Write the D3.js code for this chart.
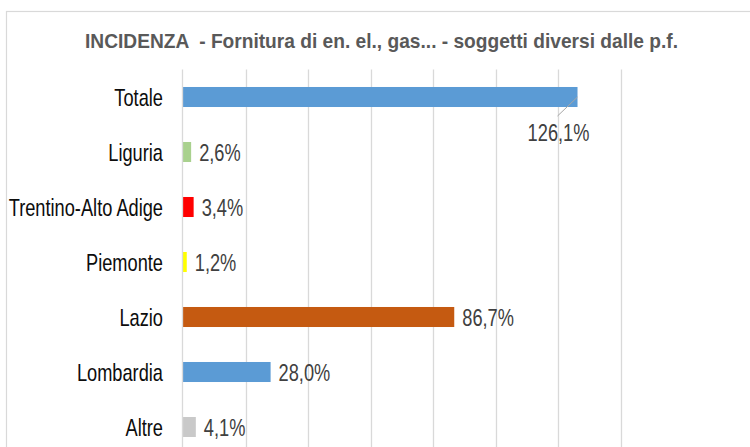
<!DOCTYPE html>
<html>
<head>
<meta charset="utf-8">
<script src="https://cdn.jsdelivr.net/npm/d3@7"></script>
<style>
  body { margin: 0; background: #fff; }
  svg { display: block; }
</style>
</head>
<body>
<script>
// data
var categories = ['Totale', 'Liguria', 'Trentino-Alto Adige', 'Piemonte', 'Lazio', 'Lombardia', 'Altre'];
var values = [126.1, 2.6, 3.4, 1.2, 86.7, 28.0, 4.1];
var colors = ['#5B9BD5', '#A9D18E', '#FF0000', '#FFFF00', '#C55A11', '#5B9BD5', '#C9C9C9'];
var labels = ['126,1%', '2,6%', '3,4%', '1,2%', '86,7%', '28,0%', '4,1%'];
var title = 'INCIDENZA  - Fornitura di en. el., gas... - soggetti diversi dalle p.f.';

var width = 750, height = 447;
var plot_left = 183, plot_right = 621, plot_top = 69.5, plot_bottom = 454.5;
var text_sx = 0.76; // text in the picture is horizontally squeezed

var data = categories.map((c, i) => ({cat: c, value: values[i], color: colors[i], label: labels[i]}));

var x = d3.scaleLinear().domain([0, 140]).range([plot_left, plot_right]);
var y = d3.scaleBand().domain(categories).range([plot_top, plot_bottom]).paddingInner(0.636).paddingOuter(0.318);

var svg = d3.select('body').append('svg').attr('width', width).attr('height', height);

// chart border
svg.append('rect')
    .attr('x', 6.5).attr('y', 11.5)
    .attr('width', 800).attr('height', 500)
    .attr('fill', 'none').attr('stroke', '#D9D9D9').attr('stroke-width', 1.2);

// title
svg.append('text')
    .attr('x', 381.5).attr('y', 48)
    .attr('text-anchor', 'middle')
    .attr('font-family', 'Liberation Sans, Arial, sans-serif')
    .attr('font-weight', 'bold')
    .attr('font-size', 21)
    .attr('fill', '#595959')
    .attr('textLength', 593).attr('lengthAdjust', 'spacingAndGlyphs')
    .style('white-space', 'pre')
    .text(title);

// gridlines
svg.append('g').selectAll('line').data(x.ticks(7).filter(d => d > 0)).enter()
    .append('line')
    .attr('x1', d => Math.round(x(d)) + 0.5).attr('x2', d => Math.round(x(d)) + 0.5)
    .attr('y1', plot_top).attr('y2', plot_bottom)
    .attr('stroke', '#D9D9D9').attr('stroke-width', 1.3);

// bars
svg.append('g').selectAll('rect').data(data).enter()
    .append('rect')
    .attr('x', x(0))
    .attr('y', d => y(d.cat))
    .attr('width', d => x(d.value) - x(0))
    .attr('height', y.bandwidth())
    .attr('fill', d => d.color);

// category axis line
svg.append('line')
    .attr('x1', x(0) - 0.5).attr('x2', x(0) - 0.5)
    .attr('y1', plot_top).attr('y2', plot_bottom)
    .attr('stroke', '#D9D9D9').attr('stroke-width', 1.3);

// category labels
svg.append('g').selectAll('g').data(data).enter()
    .append('g')
    .attr('transform', d => 'translate(' + 163 + ',' + (y(d.cat) + y.bandwidth() / 2 + 8.5) + ') scale(' + text_sx + ',1)')
    .append('text')
    .attr('text-anchor', 'end')
    .attr('font-family', 'Liberation Sans, Arial, sans-serif')
    .attr('font-size', 24)
    .attr('fill', '#0D0D0D')
    .text(d => d.cat);

// value labels (Totale one sits below the bar with a leader line)
var big = data[0];
svg.append('line')
    .attr('x1', x(big.value)).attr('y1', y(big.cat) + y.bandwidth() / 2)
    .attr('x2', x(big.value) - 20).attr('y2', y(big.cat) + y.bandwidth() / 2 + 19)
    .attr('stroke', '#A6A6A6').attr('stroke-width', 1);

svg.append('g').selectAll('g').data(data).enter()
    .append('g')
    .attr('transform', (d, i) => {
        var cy = y(d.cat) + y.bandwidth() / 2;
        if (i == 0) return 'translate(' + (x(d.value) - 19) + ',' + (cy + 44) + ') scale(' + text_sx + ',1)';
        return 'translate(' + (x(d.value) + 8) + ',' + (cy + 8.5) + ') scale(' + text_sx + ',1)';
    })
    .append('text')
    .attr('text-anchor', (d, i) => i == 0 ? 'middle' : 'start')
    .attr('font-family', 'Liberation Sans, Arial, sans-serif')
    .attr('font-size', 24)
    .attr('fill', '#404040')
    .text(d => d.label);
</script>
</body>
</html>
